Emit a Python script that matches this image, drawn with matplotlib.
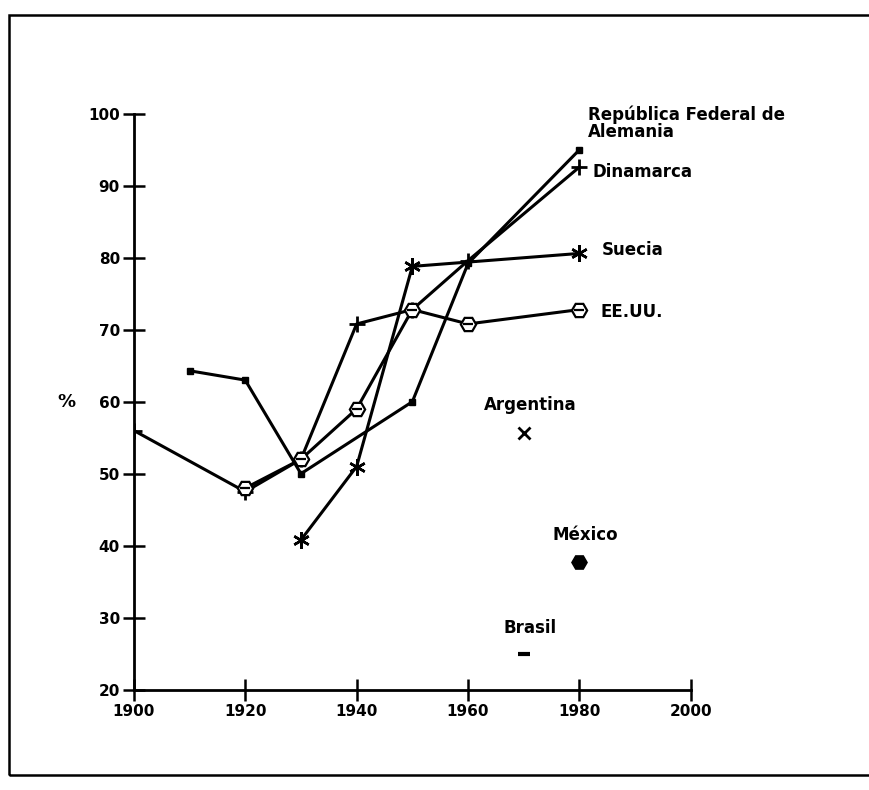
import matplotlib.pyplot as plt
from matplotlib.patches import Rectangle

# Data (% values by year)
ger_years = [1910, 1920, 1930, 1950, 1960, 1980]
ger_vals = [64.3, 63.0, 50.0, 60.0, 79.2, 95.0]

den_years = [1900, 1920, 1930, 1940, 1950, 1960, 1980]
den_vals = [56.0, 47.5, 52.0, 70.8, 72.8, 79.6, 92.6]

usa_years = [1920, 1930, 1940, 1950, 1960, 1980]
usa_vals = [48.0, 52.0, 59.0, 72.8, 70.8, 72.8]

swe_years = [1930, 1940, 1950, 1960, 1980]
swe_vals = [40.8, 51.0, 78.8, 79.4, 80.6]

arg_year, arg_val = 1970, 55.6
mex_year, mex_val = 1980, 37.8
bra_year, bra_val = 1970, 25.0

plt.rcParams['font.family'] = ['DejaVu Sans']
plt.rcParams['font.weight'] = 'bold'

fig = plt.figure(figsize=(8.69, 7.9), dpi=100)
ax = fig.add_axes([0.154, 0.127, 0.641, 0.729])

lw = 2.2
ax.plot(ger_years, ger_vals, color='black', lw=lw, marker='s', ms=5, zorder=3)
ax.plot(den_years, den_vals, color='black', lw=lw, marker='+', ms=12, mew=2, zorder=3)
ax.plot(swe_years[:3] + swe_years[4:], swe_vals[:3] + swe_vals[4:], ls='none',
        marker=(6, 2, 0), ms=12, mew=1.8, color='black', zorder=4)
ax.plot(swe_years, swe_vals, color='black', lw=lw, zorder=3)
ax.plot(usa_years, usa_vals, color='black', lw=lw, marker='H', ms=11,
        mfc='white', mec='black', mew=1.6, zorder=5)
ax.plot(usa_years, usa_vals, ls='none', marker='_', ms=7, mew=1.6,
        color='black', zorder=6)

ax.plot(arg_year, arg_val, marker='x', ms=9, mew=2, color='black', ls='none')
ax.plot(mex_year, mex_val, marker='H', ms=11, color='black', ls='none')
ax.plot(bra_year, bra_val, marker='_', ms=9, mew=3, color='black', ls='none')

fs = 12
ax.text(1981.5, 101.2, 'República Federal de\nAlemania', fontsize=fs,
        ha='left', va='top', linespacing=0.95, clip_on=False)
ax.text(1982.4, 91.9, 'Dinamarca', fontsize=fs, ha='left', va='center')
ax.text(1984.0, 81.1, 'Suecia', fontsize=fs, ha='left', va='center')
ax.text(1983.7, 72.4, 'EE.UU.', fontsize=fs, ha='left', va='center')
ax.text(1971.2, 59.6, 'Argentina', fontsize=fs, ha='center', va='center')
ax.text(1981.1, 41.5, 'México', fontsize=fs, ha='center', va='center')
ax.text(1971.1, 28.6, 'Brasil', fontsize=fs, ha='center', va='center')

ax.set_xlim(1900, 2000)
ax.set_ylim(20, 100)
ax.set_xticks(range(1900, 2001, 20))
ax.set_yticks(range(20, 101, 10))
ax.tick_params(direction='inout', length=16, width=1.8, labelsize=11, pad=2)
for lab in ax.get_xticklabels() + ax.get_yticklabels():
    lab.set_fontweight('bold')
for side in ['top', 'right']:
    ax.spines[side].set_visible(False)
for side in ['left', 'bottom']:
    ax.spines[side].set_linewidth(2)
ax.set_ylabel('%', rotation=0, fontsize=13, fontweight='bold', labelpad=16, va='center')

# outer frame
fig.patches.append(Rectangle((0.01, 0.019), 1.05, 0.962, transform=fig.transFigure,
                             fill=False, lw=1.8, edgecolor='black'))

fig.savefig('out.png', dpi=100)
